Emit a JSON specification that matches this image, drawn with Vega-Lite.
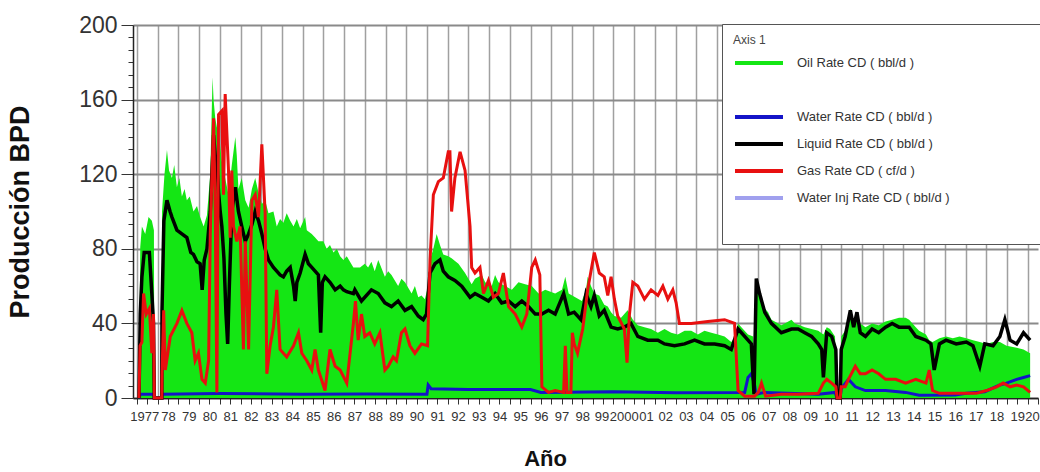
{
"$schema": "https://vega.github.io/schema/vega-lite/v6.json",
"width": 905, "height": 373,
"autosize": {"type": "none"},
"padding": {"left": 133, "top": 25, "right": 2, "bottom": 74},
"background": "white",
"config": {"view": {"stroke": null}, "font": "Liberation Sans", "legend": {"labelLimit": 0}},
"datasets": {
"oil": [{"x":1977.1,"y":0},{"x":1977.16,"y":81},{"x":1977.24,"y":92},{"x":1977.4,"y":88},{"x":1977.56,"y":97},{"x":1977.72,"y":95},{"x":1977.82,"y":90},{"x":1977.84,"y":0},{"x":1978.2,"y":0},{"x":1978.21,"y":100},{"x":1978.33,"y":120},{"x":1978.45,"y":133},{"x":1978.55,"y":122},{"x":1978.69,"y":118},{"x":1978.8,"y":125},{"x":1978.93,"y":113},{"x":1979.05,"y":118},{"x":1979.17,"y":108},{"x":1979.3,"y":112},{"x":1979.41,"y":106},{"x":1979.55,"y":108},{"x":1979.73,"y":100},{"x":1979.9,"y":103},{"x":1980.05,"y":97},{"x":1980.22,"y":92},{"x":1980.38,"y":98},{"x":1980.54,"y":120},{"x":1980.65,"y":172},{"x":1980.7,"y":160},{"x":1980.78,"y":150},{"x":1980.86,"y":145},{"x":1980.94,"y":148},{"x":1981.02,"y":135},{"x":1981.1,"y":127},{"x":1981.26,"y":118},{"x":1981.42,"y":109},{"x":1981.58,"y":125},{"x":1981.75,"y":140},{"x":1981.82,"y":130},{"x":1981.9,"y":112},{"x":1982.06,"y":118},{"x":1982.23,"y":106},{"x":1982.39,"y":102},{"x":1982.55,"y":112},{"x":1982.71,"y":118},{"x":1982.87,"y":110},{"x":1983.03,"y":104},{"x":1983.19,"y":106},{"x":1983.35,"y":99},{"x":1983.59,"y":100},{"x":1983.75,"y":92},{"x":1983.91,"y":96},{"x":1984.07,"y":94},{"x":1984.23,"y":99},{"x":1984.4,"y":95},{"x":1984.56,"y":92},{"x":1984.72,"y":96},{"x":1984.88,"y":91},{"x":1985.12,"y":97},{"x":1985.2,"y":90},{"x":1985.44,"y":88},{"x":1985.6,"y":86},{"x":1985.76,"y":84},{"x":1986,"y":84},{"x":1986.16,"y":80},{"x":1986.32,"y":82},{"x":1986.49,"y":78},{"x":1986.65,"y":80},{"x":1986.81,"y":76},{"x":1986.97,"y":74},{"x":1987.13,"y":76},{"x":1987.45,"y":70},{"x":1987.77,"y":70},{"x":1988,"y":72},{"x":1988.16,"y":70},{"x":1988.32,"y":73},{"x":1988.48,"y":68},{"x":1988.65,"y":74},{"x":1988.97,"y":65},{"x":1989.13,"y":68},{"x":1989.29,"y":66},{"x":1989.61,"y":60},{"x":1989.77,"y":64},{"x":1989.94,"y":62},{"x":1990.26,"y":56},{"x":1990.42,"y":60},{"x":1990.58,"y":54},{"x":1990.74,"y":55},{"x":1990.9,"y":53},{"x":1991.06,"y":60},{"x":1991.15,"y":74},{"x":1991.31,"y":80},{"x":1991.47,"y":88},{"x":1991.63,"y":82},{"x":1991.79,"y":77},{"x":1992.03,"y":76},{"x":1992.19,"y":75},{"x":1992.52,"y":72},{"x":1992.84,"y":67},{"x":1993.16,"y":61},{"x":1993.32,"y":64},{"x":1993.65,"y":66},{"x":1993.81,"y":62},{"x":1994.13,"y":60},{"x":1994.29,"y":66},{"x":1994.45,"y":62},{"x":1994.77,"y":60},{"x":1995.1,"y":58},{"x":1995.42,"y":62},{"x":1995.74,"y":61},{"x":1996.06,"y":60},{"x":1996.39,"y":56},{"x":1996.71,"y":58},{"x":1997.19,"y":56},{"x":1997.52,"y":58},{"x":1997.68,"y":65},{"x":1997.84,"y":56},{"x":1998.16,"y":54},{"x":1998.48,"y":52},{"x":1998.68,"y":58},{"x":1998.76,"y":65},{"x":1998.92,"y":60},{"x":1999.08,"y":56},{"x":1999.32,"y":55},{"x":1999.56,"y":50},{"x":1999.73,"y":49},{"x":1999.89,"y":46},{"x":2000.05,"y":44},{"x":2000.37,"y":43},{"x":2000.53,"y":45},{"x":2000.69,"y":47},{"x":2000.94,"y":42},{"x":2001.18,"y":39},{"x":2001.5,"y":38},{"x":2001.82,"y":37},{"x":2002.15,"y":35},{"x":2002.47,"y":37},{"x":2002.79,"y":35},{"x":2003.11,"y":34},{"x":2003.44,"y":36},{"x":2003.76,"y":36},{"x":2004.08,"y":34},{"x":2004.4,"y":36},{"x":2004.73,"y":35},{"x":2005.05,"y":34},{"x":2005.37,"y":33},{"x":2005.69,"y":30},{"x":2005.85,"y":32},{"x":2006.02,"y":40},{"x":2006.18,"y":38},{"x":2006.5,"y":34},{"x":2006.75,"y":33},{"x":2006.79,"y":8},{"x":2006.9,"y":64},{"x":2006.98,"y":58},{"x":2007.15,"y":52},{"x":2007.31,"y":48},{"x":2007.47,"y":46},{"x":2007.63,"y":42},{"x":2007.79,"y":41},{"x":2008.11,"y":39},{"x":2008.27,"y":40},{"x":2008.6,"y":42},{"x":2008.76,"y":40},{"x":2009,"y":39},{"x":2009.24,"y":38},{"x":2009.57,"y":37},{"x":2009.89,"y":36},{"x":2010.14,"y":34},{"x":2010.3,"y":38},{"x":2010.46,"y":37},{"x":2010.7,"y":33},{"x":2010.8,"y":0},{"x":2010.95,"y":0},{"x":2011,"y":33},{"x":2011.19,"y":36},{"x":2011.44,"y":48},{"x":2011.6,"y":42},{"x":2011.76,"y":46},{"x":2011.92,"y":40},{"x":2012.17,"y":38},{"x":2012.49,"y":40},{"x":2012.81,"y":39},{"x":2013.14,"y":41},{"x":2013.46,"y":42},{"x":2013.79,"y":43},{"x":2014.11,"y":43},{"x":2014.28,"y":42},{"x":2014.6,"y":38},{"x":2014.76,"y":36},{"x":2015.09,"y":34},{"x":2015.25,"y":31},{"x":2015.41,"y":30},{"x":2015.74,"y":32},{"x":2016.06,"y":33},{"x":2016.39,"y":32},{"x":2016.71,"y":33},{"x":2017.04,"y":32},{"x":2017.36,"y":31},{"x":2017.69,"y":30},{"x":2018.01,"y":29},{"x":2018.33,"y":30},{"x":2018.66,"y":30},{"x":2018.98,"y":28},{"x":2019.47,"y":27},{"x":2019.8,"y":26},{"x":2020.12,"y":24}],
"water": [{"x":1977.1,"y":0},{"x":1977.16,"y":2},{"x":1977.8,"y":2},{"x":1977.84,"y":0},{"x":1978.2,"y":0},{"x":1978.21,"y":2},{"x":1981,"y":2.4},{"x":1985,"y":2},{"x":1988,"y":2.2},{"x":1991,"y":2},{"x":1991.06,"y":7},{"x":1991.2,"y":5},{"x":1993,"y":4.6},{"x":1996,"y":4.5},{"x":1996.5,"y":3},{"x":2000,"y":3.4},{"x":2003,"y":2.8},{"x":2006.34,"y":3},{"x":2006.5,"y":11},{"x":2006.66,"y":13},{"x":2006.8,"y":8},{"x":2006.9,"y":2},{"x":2007.3,"y":3},{"x":2009.9,"y":2},{"x":2010.7,"y":3},{"x":2010.8,"y":0},{"x":2010.95,"y":0},{"x":2011,"y":5},{"x":2011.35,"y":10},{"x":2011.68,"y":6},{"x":2012.17,"y":4},{"x":2013.14,"y":4},{"x":2014.11,"y":3},{"x":2014.76,"y":1.5},{"x":2016.5,"y":1.6},{"x":2017.04,"y":2.5},{"x":2017.93,"y":3.4},{"x":2018.66,"y":7},{"x":2018.98,"y":8},{"x":2019.47,"y":10},{"x":2019.8,"y":11},{"x":2020.12,"y":12}],
"liquid": [{"x":1977.1,"y":0},{"x":1977.16,"y":45},{"x":1977.24,"y":65},{"x":1977.35,"y":78},{"x":1977.6,"y":78},{"x":1977.72,"y":56},{"x":1977.8,"y":40},{"x":1977.84,"y":0},{"x":1978.2,"y":0},{"x":1978.21,"y":47},{"x":1978.3,"y":95},{"x":1978.45,"y":106},{"x":1978.6,"y":100},{"x":1978.69,"y":97},{"x":1978.93,"y":90},{"x":1979.17,"y":88},{"x":1979.41,"y":86},{"x":1979.6,"y":78},{"x":1979.73,"y":77},{"x":1979.9,"y":73},{"x":1980.05,"y":72},{"x":1980.15,"y":58},{"x":1980.25,"y":74},{"x":1980.38,"y":80},{"x":1980.54,"y":100},{"x":1980.7,"y":141},{"x":1980.78,"y":130},{"x":1980.86,"y":127},{"x":1980.94,"y":110},{"x":1981.02,"y":100},{"x":1981.1,"y":92},{"x":1981.2,"y":75},{"x":1981.3,"y":45},{"x":1981.38,"y":29},{"x":1981.46,"y":60},{"x":1981.58,"y":100},{"x":1981.75,"y":113},{"x":1981.9,"y":100},{"x":1982.06,"y":92},{"x":1982.23,"y":84},{"x":1982.39,"y":88},{"x":1982.55,"y":93},{"x":1982.71,"y":100},{"x":1982.87,"y":95},{"x":1983.03,"y":88},{"x":1983.19,"y":80},{"x":1983.35,"y":74},{"x":1983.59,"y":70},{"x":1983.75,"y":68},{"x":1983.91,"y":66},{"x":1984.07,"y":65},{"x":1984.23,"y":68},{"x":1984.4,"y":70},{"x":1984.56,"y":60},{"x":1984.64,"y":52},{"x":1984.72,"y":62},{"x":1984.88,"y":67},{"x":1985.12,"y":77},{"x":1985.28,"y":72},{"x":1985.44,"y":70},{"x":1985.6,"y":68},{"x":1985.76,"y":66},{"x":1985.87,"y":35},{"x":1985.95,"y":62},{"x":1986.08,"y":65},{"x":1986.32,"y":62},{"x":1986.57,"y":58},{"x":1986.81,"y":60},{"x":1986.97,"y":58},{"x":1987.13,"y":57},{"x":1987.45,"y":56},{"x":1987.52,"y":58},{"x":1987.84,"y":52},{"x":1988.32,"y":58},{"x":1988.65,"y":56},{"x":1988.97,"y":51},{"x":1989.29,"y":49},{"x":1989.61,"y":52},{"x":1989.94,"y":47},{"x":1990.26,"y":49},{"x":1990.58,"y":44},{"x":1990.82,"y":42},{"x":1990.98,"y":45},{"x":1991.15,"y":67},{"x":1991.39,"y":72},{"x":1991.63,"y":74},{"x":1991.79,"y":68},{"x":1992.03,"y":65},{"x":1992.35,"y":63},{"x":1992.68,"y":60},{"x":1993.08,"y":54},{"x":1993.32,"y":56},{"x":1993.65,"y":54},{"x":1993.97,"y":52},{"x":1994.29,"y":56},{"x":1994.61,"y":51},{"x":1994.94,"y":52},{"x":1995.26,"y":49},{"x":1995.58,"y":52},{"x":1995.9,"y":49},{"x":1996.23,"y":45},{"x":1996.55,"y":45},{"x":1996.87,"y":47},{"x":1997.19,"y":45},{"x":1997.6,"y":56},{"x":1997.84,"y":45},{"x":1998.11,"y":46},{"x":1998.44,"y":42},{"x":1998.68,"y":56},{"x":1998.92,"y":49},{"x":1999.08,"y":55},{"x":1999.32,"y":44},{"x":1999.56,"y":47},{"x":1999.89,"y":38},{"x":2000.21,"y":37},{"x":2000.53,"y":38},{"x":2000.85,"y":40},{"x":2001.18,"y":33},{"x":2001.66,"y":31},{"x":2002.15,"y":31},{"x":2002.47,"y":29},{"x":2002.95,"y":28},{"x":2003.44,"y":29},{"x":2003.92,"y":31},{"x":2004.4,"y":29},{"x":2004.89,"y":29},{"x":2005.37,"y":28},{"x":2005.69,"y":26},{"x":2006.02,"y":37},{"x":2006.34,"y":33},{"x":2006.66,"y":29},{"x":2006.79,"y":2},{"x":2006.9,"y":64},{"x":2007.06,"y":56},{"x":2007.31,"y":46},{"x":2007.63,"y":40},{"x":2008.11,"y":35},{"x":2008.6,"y":37},{"x":2008.92,"y":37},{"x":2009.24,"y":35},{"x":2009.57,"y":33},{"x":2009.89,"y":29},{"x":2010.06,"y":26},{"x":2010.14,"y":11},{"x":2010.3,"y":35},{"x":2010.54,"y":33},{"x":2010.74,"y":26},{"x":2010.8,"y":0},{"x":2010.95,"y":0},{"x":2011,"y":26},{"x":2011.19,"y":33},{"x":2011.44,"y":47},{"x":2011.6,"y":38},{"x":2011.76,"y":46},{"x":2011.92,"y":35},{"x":2012.17,"y":33},{"x":2012.49,"y":37},{"x":2012.81,"y":35},{"x":2013.14,"y":38},{"x":2013.46,"y":40},{"x":2013.79,"y":38},{"x":2014.28,"y":38},{"x":2014.6,"y":33},{"x":2015.09,"y":31},{"x":2015.33,"y":29},{"x":2015.49,"y":15},{"x":2015.74,"y":29},{"x":2016.06,"y":31},{"x":2016.55,"y":29},{"x":2017.04,"y":30},{"x":2017.36,"y":28},{"x":2017.69,"y":17},{"x":2017.93,"y":29},{"x":2018.33,"y":28},{"x":2018.66,"y":33},{"x":2018.9,"y":42},{"x":2019.15,"y":31},{"x":2019.47,"y":29},{"x":2019.8,"y":35},{"x":2020.12,"y":31}],
"gas": [{"x":1977.1,"y":0},{"x":1977.15,"y":28},{"x":1977.24,"y":30},{"x":1977.32,"y":56},{"x":1977.45,"y":45},{"x":1977.6,"y":48},{"x":1977.72,"y":24},{"x":1977.8,"y":45},{"x":1977.84,"y":0},{"x":1978.2,"y":0},{"x":1978.21,"y":12},{"x":1978.29,"y":47},{"x":1978.37,"y":15},{"x":1978.61,"y":33},{"x":1978.93,"y":40},{"x":1979.17,"y":47},{"x":1979.41,"y":40},{"x":1979.65,"y":35},{"x":1979.81,"y":20},{"x":1979.97,"y":24},{"x":1980.14,"y":10},{"x":1980.3,"y":8},{"x":1980.46,"y":20},{"x":1980.54,"y":88},{"x":1980.7,"y":150},{"x":1980.78,"y":100},{"x":1980.86,"y":3},{"x":1980.94,"y":152},{"x":1981.1,"y":154},{"x":1981.18,"y":109},{"x":1981.26,"y":163},{"x":1981.42,"y":122},{"x":1981.5,"y":86},{"x":1981.58,"y":122},{"x":1981.66,"y":92},{"x":1981.82,"y":84},{"x":1981.98,"y":92},{"x":1982.14,"y":26},{"x":1982.23,"y":84},{"x":1982.39,"y":26},{"x":1982.55,"y":106},{"x":1982.71,"y":109},{"x":1982.87,"y":97},{"x":1983.03,"y":136},{"x":1983.19,"y":99},{"x":1983.27,"y":13},{"x":1983.43,"y":28},{"x":1983.59,"y":38},{"x":1983.75,"y":58},{"x":1983.91,"y":26},{"x":1984.23,"y":22},{"x":1984.56,"y":28},{"x":1984.8,"y":35},{"x":1984.96,"y":24},{"x":1985.2,"y":20},{"x":1985.44,"y":15},{"x":1985.6,"y":26},{"x":1985.76,"y":15},{"x":1986.08,"y":4},{"x":1986.32,"y":26},{"x":1986.57,"y":17},{"x":1986.81,"y":15},{"x":1987.13,"y":8},{"x":1987.45,"y":40},{"x":1987.55,"y":52},{"x":1987.68,"y":31},{"x":1987.84,"y":45},{"x":1988,"y":33},{"x":1988.24,"y":35},{"x":1988.48,"y":29},{"x":1988.73,"y":35},{"x":1988.97,"y":15},{"x":1989.13,"y":17},{"x":1989.37,"y":22},{"x":1989.53,"y":20},{"x":1989.77,"y":35},{"x":1989.94,"y":37},{"x":1990.18,"y":28},{"x":1990.42,"y":24},{"x":1990.74,"y":29},{"x":1991.03,"y":28},{"x":1991.15,"y":74},{"x":1991.31,"y":109},{"x":1991.55,"y":116},{"x":1991.79,"y":118},{"x":1992.03,"y":132},{"x":1992.11,"y":132},{"x":1992.19,"y":100},{"x":1992.35,"y":118},{"x":1992.6,"y":132},{"x":1992.84,"y":122},{"x":1993.08,"y":92},{"x":1993.16,"y":70},{"x":1993.32,"y":67},{"x":1993.56,"y":70},{"x":1993.73,"y":56},{"x":1993.97,"y":63},{"x":1994.21,"y":54},{"x":1994.45,"y":56},{"x":1994.69,"y":67},{"x":1994.94,"y":49},{"x":1995.26,"y":45},{"x":1995.58,"y":38},{"x":1995.82,"y":45},{"x":1996.06,"y":70},{"x":1996.23,"y":74},{"x":1996.45,"y":66},{"x":1996.55,"y":6},{"x":1996.87,"y":3},{"x":1997.19,"y":4},{"x":1997.6,"y":3},{"x":1997.68,"y":28},{"x":1997.76,"y":3},{"x":1997.95,"y":3},{"x":1998.02,"y":35},{"x":1998.11,"y":29},{"x":1998.27,"y":24},{"x":1998.52,"y":37},{"x":1998.76,"y":58},{"x":1999.08,"y":78},{"x":1999.32,"y":67},{"x":1999.56,"y":65},{"x":1999.73,"y":55},{"x":1999.89,"y":65},{"x":2000.05,"y":53},{"x":2000.21,"y":44},{"x":2000.53,"y":37},{"x":2000.66,"y":19},{"x":2000.77,"y":44},{"x":2000.94,"y":62},{"x":2001.18,"y":60},{"x":2001.5,"y":53},{"x":2001.82,"y":58},{"x":2002.15,"y":55},{"x":2002.39,"y":60},{"x":2002.63,"y":53},{"x":2002.87,"y":58},{"x":2003.03,"y":51},{"x":2003.19,"y":40},{"x":2003.76,"y":40},{"x":2004.56,"y":41},{"x":2005.37,"y":42},{"x":2005.85,"y":40},{"x":2006.02,"y":4},{"x":2006.34,"y":1},{"x":2006.82,"y":1},{"x":2007,"y":3},{"x":2007.15,"y":8},{"x":2007.35,"y":1},{"x":2008.11,"y":2},{"x":2008.92,"y":2},{"x":2009.89,"y":2.5},{"x":2010.14,"y":8},{"x":2010.3,"y":10},{"x":2010.54,"y":8},{"x":2010.74,"y":6},{"x":2010.8,"y":0},{"x":2010.95,"y":0},{"x":2011,"y":6},{"x":2011.19,"y":6},{"x":2011.35,"y":10},{"x":2011.68,"y":17},{"x":2011.92,"y":13},{"x":2012.17,"y":13},{"x":2012.49,"y":15},{"x":2012.81,"y":13},{"x":2013.14,"y":10},{"x":2013.63,"y":10},{"x":2014.11,"y":8},{"x":2014.6,"y":10},{"x":2015.09,"y":8},{"x":2015.25,"y":15},{"x":2015.41,"y":4},{"x":2015.74,"y":2.5},{"x":2016.39,"y":2.5},{"x":2017.04,"y":2.5},{"x":2017.52,"y":2.5},{"x":2018.01,"y":4},{"x":2018.5,"y":6},{"x":2018.82,"y":8},{"x":2019.15,"y":6},{"x":2019.47,"y":7},{"x":2019.8,"y":6},{"x":2020.12,"y":3}]
},
"encoding": {
  "x": {"field": "x", "type": "quantitative",
    "scale": {"domain": [1976.81, 2020.5], "nice": false, "zero": false},
    "axis": {
      "values": [1977,1977.5,1978,1978.5,1979,1979.5,1980,1980.5,1981,1981.5,1982,1982.5,1983,1983.5,1984,1984.5,1985,1985.5,1986,1986.5,1987,1987.5,1988,1988.5,1989,1989.5,1990,1990.5,1991,1991.5,1992,1992.5,1993,1993.5,1994,1994.5,1995,1995.5,1996,1996.5,1997,1997.5,1998,1998.5,1999,1999.5,2000,2000.5,2001,2001.5,2002,2002.5,2003,2003.5,2004,2004.5,2005,2005.5,2006,2006.5,2007,2007.5,2008,2008.5,2009,2009.5,2010,2010.5,2011,2011.5,2012,2012.5,2013,2013.5,2014,2014.5,2015,2015.5,2016,2016.5,2017,2017.5,2018,2018.5,2019,2019.5,2020,2020.5],
      "labelExpr": "datum.value % 1 === 0.5 ? ((floor(datum.value) === 1977 || floor(datum.value) === 2000) ? '' + floor(datum.value) : slice('' + floor(datum.value), 2)) : ''",
      "labelFont": "Liberation Sans", "labelFontSize": 13, "labelColor": "#333", "labelPadding": 6,
      "labelOffset": {"condition": [{"test": "datum.value === 1977.5", "value": -3}, {"test": "datum.value === 1999.5", "value": -1.5}, {"test": "datum.value === 2001.5", "value": 1.5}, {"test": "datum.value === 2020.5", "value": -6}], "value": 0},
      "labelOverlap": false, "labelFlush": false, "labelBound": false,
      "tickSize": 6, "tickColor": "#333",
      "grid": true,
      "gridColor": {"condition": {"test": "datum.value % 1 === 0", "value": "#a0a0a0"}, "value": "transparent"},
      "gridWidth": 1.5,
      "domainColor": "#222", "domainWidth": 1.5,
      "title": "Año", "titleFont": "Liberation Sans", "titleFontSize": 22, "titleFontWeight": "bold", "titleColor": "#111",
      "titleX": 412, "titleY": 67, "titleAlign": "center", "titleBaseline": "alphabetic"
    }
  },
  "y": {"field": "y", "type": "quantitative",
    "scale": {"domain": [0, 200], "nice": false},
    "axis": {
      "values": [0,6.667,13.333,20,26.667,33.333,40,46.667,53.333,60,66.667,73.333,80,86.667,93.333,100,106.667,113.333,120,126.667,133.333,140,146.667,153.333,160,166.667,173.333,180,186.667,193.333,200],
      "labelExpr": "datum.value % 40 === 0 ? datum.label : ''",
      "labelFont": "Liberation Sans", "labelFontSize": 23, "labelColor": "#333", "labelPadding": 4,
      "labelOverlap": false, "labelFlush": false,
      "tickSize": {"condition": {"test": "datum.value % 40 === 0", "value": 12}, "value": 5},
      "tickColor": "#333",
      "grid": true,
      "gridColor": {"condition": {"test": "datum.value % 40 === 0", "value": "#8a8a8a"}, "value": "transparent"},
      "gridWidth": 2,
      "domainColor": "#222", "domainWidth": 1.5,
      "title": "Producción  BPD", "titleFont": "Liberation Sans", "titleFontSize": 27, "titleFontWeight": "bold", "titleColor": "#111",
      "titleX": -113, "titleY": 186.5, "titleAngle": -90, "titleAlign": "center", "titleBaseline": "middle"
    }
  }
},
"layer": [
  {"data": {"name": "oil"}, "mark": {"type": "area", "opacity": 1},
   "encoding": {"color": {"datum": "oil", "type": "nominal",
     "scale": {"domain": ["oil", "blank", "water", "liquid", "gas", "inj", "blank2"], "range": ["#14e614", "rgba(0,0,0,0)", "#1414c8", "#000000", "#e81010", "#a0a0ee", "rgba(0,0,0,0)"]},
     "legend": {
       "orient": "none", "legendX": 589, "legendY": -1,
       "title": "Axis 1", "titleFont": "Liberation Sans", "titleFontSize": 12, "titleFontWeight": "normal", "titleColor": "#444", "titlePadding": 6, "titleAnchor": "start",
       "labelFont": "Liberation Sans", "labelFontSize": 13, "labelColor": "#333", "labelLimit": 0,
       "labelExpr": "datum.value === 'oil' ? 'Oil Rate  CD ( bbl/d )' : datum.value === 'water' ? 'Water Rate  CD ( bbl/d )' : datum.value === 'liquid' ? 'Liquid Rate CD ( bbl/d )' : datum.value === 'gas' ? 'Gas Rate CD ( cf/d )' : datum.value === 'inj' ? 'Water Inj Rate CD ( bbl/d )\u00a0\u00a0\u00a0\u00a0\u00a0\u00a0\u00a0\u00a0\u00a0\u00a0\u00a0\u00a0\u00a0\u00a0\u00a0\u00a0\u00a0\u00a0\u00a0\u00a0\u00a0\u00a0\u00a0\u200b' : ''",
       "symbolType": "M-3,0H3", "symbolSize": 256, "symbolOffset": 16, "labelOffset": 28, "symbolStrokeWidth": 4,
       "rowPadding": 9, "padding": 11,
       "fillColor": "white", "strokeColor": "#555",
       "encode": {
         "symbols": {"update": {
           "stroke": {"signal": "datum.value === 'oil' ? '#5ee85e' : datum.value === 'water' ? '#1010d8' : datum.value === 'liquid' ? '#000000' : datum.value === 'gas' ? '#e81010' : datum.value === 'inj' ? '#a8a8f0' : 'rgba(0,0,0,0)'"},
           "strokeWidth": {"signal": "datum.value === 'oil' ? 2 : datum.value === 'inj' ? 3 : 4"},
           "fill": {"value": "transparent"},
           "opacity": {"value": 1}
         }},
         "legend": {"update": {"strokeWidth": {"value": 2}}}
       }
     }}}},
  {"data": {"name": "water"}, "mark": {"type": "line", "strokeWidth": 3},
   "encoding": {"color": {"datum": "water", "type": "nominal"}}},
  {"data": {"name": "liquid"}, "mark": {"type": "line", "strokeWidth": 3.5},
   "encoding": {"color": {"datum": "liquid", "type": "nominal"}}},
  {"data": {"name": "gas"}, "mark": {"type": "line", "strokeWidth": 3},
   "encoding": {"color": {"datum": "gas", "type": "nominal"}}}
]
}
